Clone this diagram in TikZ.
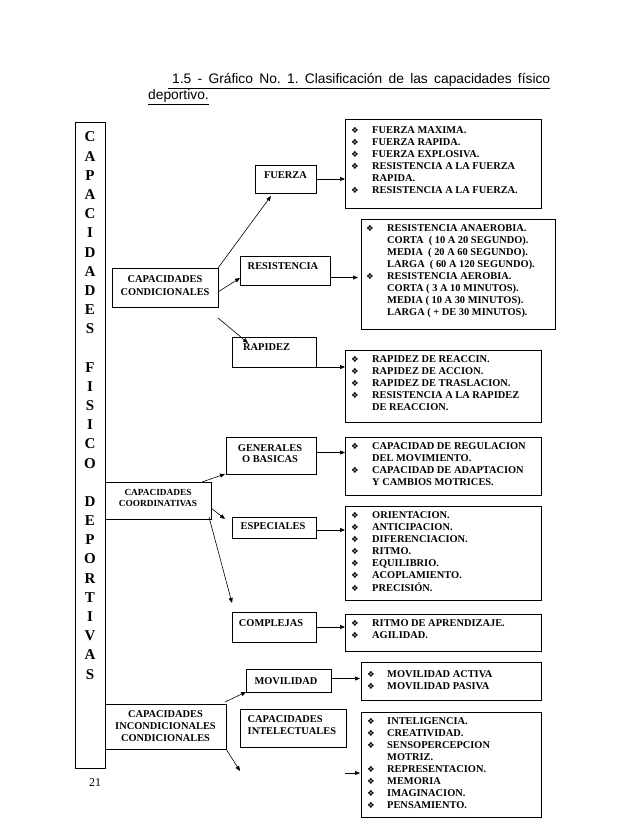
\documentclass[tikz,border=0pt]{standalone}
\usepackage{fontspec}
\setmainfont{Liberation Serif}
\newfontfamily\titlefont{Liberation Sans}
\newfontfamily\symfont{DejaVu Sans}
\usetikzlibrary{arrows.meta}
\frenchspacing
\newcommand\bul{{\symfont\fontsize{8.5}{8.5}\selectfont ❖}}
\newcommand\mkbox[5]{\node[boxst, minimum width={#4-#2}, minimum height={#5-#3}] (#1) at ({(#2+#4)/2},{(#3+#5)/2}) {};}
\begin{document}
\begin{tikzpicture}[x=1pt,y=-1pt,
  boxst/.style={draw, line width=0.8pt, inner sep=0pt, outer sep=0pt},
  lbl/.style={font=\bfseries\fontsize{10.4}{12}\selectfont, inner sep=0pt},
  lst/.style={font=\bfseries\fontsize{10.4}{12}\selectfont, inner sep=0pt, anchor=base west},
  vlet/.style={font=\bfseries\fontsize{15}{15}\selectfont, inner sep=0pt, anchor=base},
  arr/.style={-{Triangle[length=5pt,width=4pt]}, line width=0.6pt}]
\fill[white] (0,0) rectangle (638,826);
\useasboundingbox (0,0) rectangle (638,826);
% title
\node[anchor=base west, inner sep=0pt, font=\titlefont\fontsize{13.8}{16}\selectfont] (t1) at (168,84)
  {\underline{\makebox[382pt][s]{\hspace*{4pt}1.5 - Gráfico No. 1. Clasificación de las capacidades físico}}};
\node[anchor=base west, inner sep=0pt, font=\titlefont\fontsize{13.8}{16}\selectfont] (t2) at (148,100)
  {\underline{deportivo.}};
% left tall box
\mkbox{left}{75}{122}{105}{768}
\foreach \l/\k in {C/0,A/1,P/2,A/3,C/4,I/5,D/6,A/7,D/8,E/9,S/10,F/12,I/13,S/14,I/15,C/16,O/17,D/19,E/20,P/21,O/22,R/23,T/24,I/25,V/26,A/27,S/28}
  \node[vlet] (v\k) at (90,{142+19.18*\k}) {\l};
\node[anchor=base, inner sep=0pt, font=\fontsize{12}{14}\selectfont] (pg) at (95,786) {21};
% category boxes
\mkbox{cond}{112}{268}{218}{307}
\mkbox{coord}{105}{482}{211}{519}
\mkbox{incond}{105}{704}{226}{749}
\node[lbl, align=center, font=\bfseries\fontsize{10.4}{12.5}\selectfont] (condT) at (165,285.5) {CAPACIDADES\\CONDICIONALES};
\node[lbl, align=center, font=\bfseries\fontsize{9.3}{11}\selectfont] (coordT) at (158,497.5) {CAPACIDADES\\COORDINATIVAS};
\node[lbl, align=center] (incondT) at (165.5,726) {CAPACIDADES\\INCONDICIONALES\\CONDICIONALES};
% middle boxes
\mkbox{fuerza}{255}{165}{316}{193}
\mkbox{res}{240}{256}{330}{285}
\mkbox{rap}{232}{337}{316}{367}
\mkbox{gen}{226}{437}{316}{474}
\mkbox{esp}{232}{517}{316}{538}
\mkbox{comp}{232}{612}{316}{642}
\mkbox{mov}{246}{669}{331}{692}
\mkbox{intel}{240}{709}{346}{747}
\node[lbl, anchor=base] (fuerzaT) at (285.5,178.5) {FUERZA};
\node[lbl, anchor=base] (resT) at (283,269.5) {RESISTENCIA};
\node[lbl, anchor=base west] (rapT) at (243,350.5) {RAPIDEZ};
\node[lbl, align=center, font=\bfseries\fontsize{10.4}{11.5}\selectfont] (genT) at (270,453.5) {GENERALES\\O BASICAS};
\node[lbl, anchor=base] (espT) at (273,529.5) {ESPECIALES};
\node[lbl, anchor=base] (compT) at (271,626.5) {COMPLEJAS};
\node[lbl, anchor=base] (movT) at (286,684.5) {MOVILIDAD};
\node[lbl, align=left, anchor=west] (intelT) at (247.5,725) {CAPACIDADES\\INTELECTUALES};
% list boxes
\mkbox{L1}{345}{119}{541}{208}
\mkbox{L2}{361}{219}{555}{329}
\mkbox{L3}{345}{350}{541}{422}
\mkbox{L4}{345}{437}{541}{495}
\mkbox{L5}{345}{506}{541}{600}
\mkbox{L6}{345}{614}{541}{651}
\mkbox{L7}{361}{662}{541}{700}
\mkbox{L8}{361}{712}{541}{817}
\node[lst] (L1T) at (351,133.5) {\begin{tabular}[t]{@{}p{21pt}@{}l@{}}
\bul & FUERZA MAXIMA.\\
\bul & FUERZA RAPIDA.\\
\bul & FUERZA EXPLOSIVA.\\
\bul & RESISTENCIA A LA FUERZA\\
     & RAPIDA.\\
\bul & RESISTENCIA A LA FUERZA.\end{tabular}};
\node[lst] (L2T) at (366,231.5) {\begin{tabular}[t]{@{}p{21pt}@{}l@{}}
\bul & RESISTENCIA ANAEROBIA.\\
     & CORTA \ ( 10 A 20 SEGUNDO).\\
     & MEDIA \ ( 20 A 60 SEGUNDO).\\
     & LARGA \ ( 60 A 120 SEGUNDO).\\
\bul & RESISTENCIA AEROBIA.\\
     & CORTA ( 3 A 10 MINUTOS).\\
     & MEDIA ( 10 A 30 MINUTOS).\\
     & LARGA ( + DE 30 MINUTOS).\end{tabular}};
\node[lst] (L3T) at (351,362.5) {\begin{tabular}[t]{@{}p{21pt}@{}l@{}}
\bul & RAPIDEZ DE REACCIN.\\
\bul & RAPIDEZ DE ACCION.\\
\bul & RAPIDEZ DE TRASLACION.\\
\bul & RESISTENCIA A LA RAPIDEZ\\
     & DE REACCION.\end{tabular}};
\node[lst] (L4T) at (351,449.5) {\begin{tabular}[t]{@{}p{21pt}@{}l@{}}
\bul & CAPACIDAD DE REGULACION\\
     & DEL MOVIMIENTO.\\
\bul & CAPACIDAD DE ADAPTACION\\
     & Y CAMBIOS MOTRICES.\end{tabular}};
\node[lst] (L5T) at (351,518.5) {\begin{tabular}[t]{@{}p{21pt}@{}l@{}}
\bul & ORIENTACION.\\
\bul & ANTICIPACION.\\
\bul & DIFERENCIACION.\\
\bul & RITMO.\\
\bul & EQUILIBRIO.\\
\bul & ACOPLAMIENTO.\\
\bul & PRECISIÓN.\end{tabular}};
\node[lst] (L6T) at (351,626.5) {\begin{tabular}[t]{@{}p{21pt}@{}l@{}}
\bul & RITMO DE APRENDIZAJE.\\
\bul & AGILIDAD.\end{tabular}};
\node[lst] (L7T) at (367,677.5) {\begin{tabular}[t]{@{}p{20pt}@{}l@{}}
\bul & MOVILIDAD ACTIVA\\
\bul & MOVILIDAD PASIVA\end{tabular}};
\node[lst] (L8T) at (367,724.5) {\begin{tabular}[t]{@{}p{20pt}@{}l@{}}
\bul & INTELIGENCIA.\\
\bul & CREATIVIDAD.\\
\bul & SENSOPERCEPCION\\
     & MOTRIZ.\\
\bul & REPRESENTACION.\\
\bul & MEMORIA\\
\bul & IMAGINACION.\\
\bul & PENSAMIENTO.\end{tabular}};
% connectors
\coordinate (dn) at (240,771);
\coordinate (fs) at (345,773);
\draw[arr] (cond.north east) -- ([xshift=-14.5pt,yshift=-3pt]fuerza.south);
\draw[arr] ([yshift=-4.5pt]cond.east) -- ([yshift=-7.5pt]res.west);
\draw[arr] ([yshift=-11pt]cond.south east) -- ([xshift=16pt,yshift=-6pt]rap.north west);
\draw[arr] (fuerza.east) -- (L1.west |- fuerza.east);
\draw[arr] ([yshift=-7pt]res.east) -- ([xshift=-3pt,yshift=-7pt]L2.west |- res.east);
\draw[arr] (rap.south east) -- (L3.west |- rap.south east);
\draw[arr] ([xshift=-9pt]coord.north east) -- ([xshift=-1pt]gen.south west);
\draw[arr] ([yshift=-7.5pt]coord.east) -- ([xshift=-7pt,yshift=8.5pt]esp.west);
\draw[arr] ([xshift=-2pt,yshift=2pt]coord.south east) -- ([yshift=9pt]comp.north west);
\draw[arr] ([yshift=3pt]gen.east) -- ([yshift=3pt]L4.west |- gen.east);
\draw[arr] ([yshift=-2.5pt]esp.east) -- ([yshift=-2.5pt]L5.west |- esp.east);
\draw[arr] (comp.east) -- (L6.west |- comp.east);
\draw[arr] ([yshift=2pt]mov.east) -- ([yshift=2pt,xshift=-1pt]L7.west |- mov.east);
\draw[arr] ([xshift=-1pt,yshift=2pt]incond.north east) -- (mov.south west);
\draw[arr] (incond.south east) -- (dn);
\draw[arr] (fs) -- ([xshift=-1pt]L8.west |- fs);
\end{tikzpicture}
\end{document}
